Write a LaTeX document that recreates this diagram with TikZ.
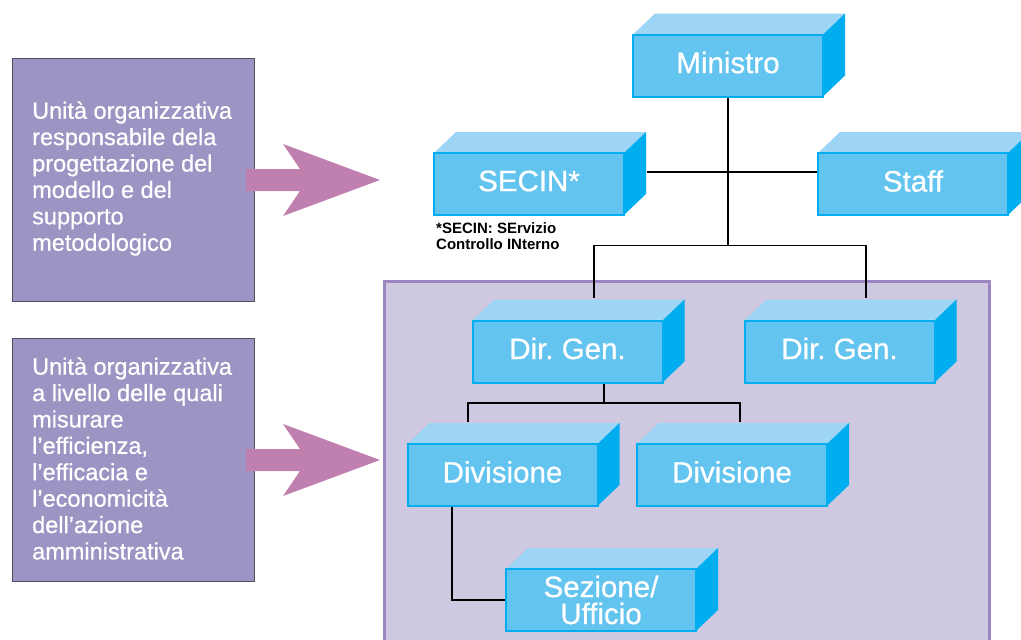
\documentclass[tikz,border=0pt]{standalone}
\usepackage{fontspec}
\setmainfont{Liberation Sans}
\newfontfamily\medfont[FakeBold=0.6]{Liberation Sans}
\usetikzlibrary{calc}
\definecolor{leftfill}{HTML}{9E94C3}
\definecolor{leftborder}{HTML}{50505E}
\definecolor{arrowc}{HTML}{BF80B0}
\definecolor{lavfill}{HTML}{CEC8E1}
\definecolor{lavborder}{HTML}{9B86C2}
\definecolor{cfront}{HTML}{64C4F0}
\definecolor{cborder}{HTML}{00AEEF}
\definecolor{ctop}{HTML}{9ED5F5}
\definecolor{cside}{HTML}{00AEEF}
\pgfdeclarelayer{bg}
\pgfdeclarelayer{lines}
\pgfdeclarelayer{faces}
\pgfsetlayers{bg,lines,faces,main}
\tikzset{
  cubefront/.style={draw=cborder, fill=cfront, line width=2pt, minimum width=190pt,
    minimum height=62pt, outer sep=0pt, inner sep=0pt, text=white,
    font=\medfont\fontsize{29.5}{27}\selectfont, align=center},
  cubetop/.style={fill=ctop},
  cubeside/.style={fill=cside},
  leftbox/.style={draw=leftborder, fill=leftfill, line width=1pt, minimum width=242pt,
    minimum height=243pt, outer sep=0pt, inner sep=0pt},
  lefttext/.style={text=white, align=left, inner sep=0pt, anchor=west,
    font=\medfont\fontsize{23.5}{26.4}\selectfont},
  conn/.style={draw=black, line width=1.3pt},
  blockarrow/.style={fill=arrowc},
  note/.style={align=left, inner sep=0pt, anchor=north west,
    font=\fontsize{15}{16}\selectfont\bfseries}
}
\newcommand\cubebox[4]{%
  \node[cubefront] (#1) at (#2,#3) {#4};
  \begin{pgfonlayer}{faces}
  \fill[cubetop] (#1.north west) -- ++(22,-21) -- ($(#1.north east)+(22,-21)$) -- (#1.north east) -- cycle;
  \fill[cubeside] (#1.north east) -- ++(22,-21) -- ($(#1.south east)+(22,-21)$) -- (#1.south east) -- cycle;
  \end{pgfonlayer}}
\newcommand\up[1]{\raisebox{3pt}[\height][\depth]{#1}}
\begin{document}
\frenchspacing
\begin{tikzpicture}[x=1pt,y=-1pt]
\useasboundingbox (0,0) rectangle (1021,640);
\begin{pgfonlayer}{bg}
\fill[white] (0,0) rectangle (1021,640);
\draw[fill=lavfill, draw=lavborder, line width=3pt] (384.5,281.5) rectangle (989,660);
\end{pgfonlayer}

% left boxes
\node[leftbox] (box1) at (133,179.5) {};
\node[lefttext] (t1) at ($(box1.west)+(20,-1)$) {Unità organizzativa\\responsabile dela\\progettazione del\\modello e del\\supporto\\metodologico};
\node[leftbox] (box2) at (133,459.5) {};
\node[lefttext] (t2) at ($(box2.west)+(20,-1)$) {Unità organizzativa\\a livello delle quali\\misurare\\l’efficienza,\\l’efficacia e\\l’economicità\\dell’azione\\amministrativa};

% block arrows
\fill[blockarrow] ($(box1.east)+(-8,0.5)$) ++(0,-11) -- ++(54,0) -- ++(-17,-25) -- ++(97,36) -- ++(-97,36) -- ++(17,-25) -- ++(-54,0) -- cycle;
\fill[blockarrow] ($(box2.east)+(-8,0.5)$) ++(0,-11) -- ++(54,0) -- ++(-17,-25) -- ++(97,36) -- ++(-97,36) -- ++(17,-25) -- ++(-54,0) -- cycle;

% cubes
\cubebox{ministro}{728}{65.5}{\up{Ministro}}
\cubebox{secin}{529}{184}{\up{SECIN*}}
\cubebox{staff}{913}{184}{\up{Staff}}
\cubebox{dg1}{567.5}{351.5}{\up{Dir. Gen.}}
\cubebox{dg2}{839.5}{351.5}{\up{Dir. Gen.}}
\cubebox{div1}{502.5}{475}{\up{Divisione}}
\cubebox{div2}{732}{475}{\up{Divisione}}
\cubebox{sez}{601}{600}{Sezione/\\Ufficio}

\node[note] (secnote) at (436,222) {*SECIN: SErvizio\\Controllo INterno};

% connectors
\begin{pgfonlayer}{lines}
\coordinate (jmin) at ($(ministro.south)+(0,149)$);
\draw[conn] (ministro.south) -- (jmin);
\draw[conn] ($(secin.east)+(23,-12)$) -- ($(staff.west)+(0,-12)$);
\draw[conn] ($(dg1.north)+(26.5,-23)$) -- ($(dg1.north)+(26.5,-75)$) -| ($(dg2.north)+(26.5,-23)$);
\coordinate (jdg) at ($(dg1.south)+(36.5,21)$);
\draw[conn] ($(dg1.south)+(36.5,0)$) -- (jdg);
\draw[conn] ($(div1.north)+(-34.5,-22)$) -- ($(div1.north)+(-34.5,-41)$) -| ($(div2.north)+(8,-22)$);
\draw[conn] ($(div1.south)+(-50.5,0)$) |- (sez.west);
\end{pgfonlayer}
\end{tikzpicture}
\end{document}
